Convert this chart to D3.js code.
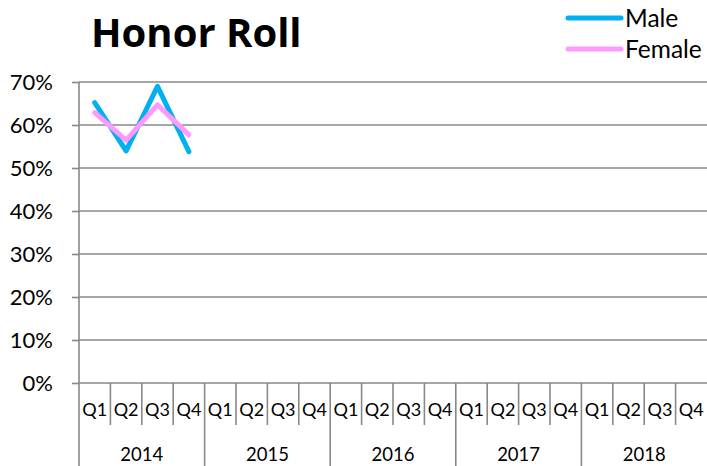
<!DOCTYPE html>
<html><head><meta charset="utf-8">
<script src="https://cdn.jsdelivr.net/npm/d3@7"></script>
<style>body{margin:0;background:#fff}svg{display:block}text{font-family:Lato,"Open Sans",sans-serif;fill:#000}</style>
</head><body>
<svg id="c" width="707" height="466"></svg>
<script>
const years = ["2014","2015","2016","2017","2018"];
const quarters = ["Q1","Q2","Q3","Q4"];
const male = [0.652, 0.54, 0.69, 0.538];
const female = [0.629, 0.565, 0.647, 0.577];
const yTicks = [0,0.1,0.2,0.3,0.4,0.5,0.6,0.7];

(function(){
const cats = [];
years.forEach(yr => quarters.forEach(q => cats.push(yr + "-" + q)));

const svg = d3.select("#c");
const pL = 79, pR = 707, pT = 82, pB = 383;
const x = d3.scaleBand().domain(cats).range([pL, pR]);
const y = d3.scaleLinear().domain([0, 0.7]).range([pB, pT]);
const grey = "#888888";

// gridlines
svg.append("g").selectAll("line").data(yTicks).join("line")
  .attr("x1", pL).attr("x2", pR)
  .attr("y1", d => y(d)).attr("y2", d => y(d))
  .attr("stroke", grey).attr("stroke-width", 1.6);

// y axis
const ya = svg.append("g").attr("transform", `translate(${pL},0)`)
  .call(d3.axisLeft(y).tickValues(yTicks).tickFormat(d3.format(".0%")).tickSize(7).tickPadding(19));
ya.select(".domain").remove();
ya.selectAll(".tick line").attr("stroke", grey).attr("stroke-width", 1.6);
ya.selectAll(".tick text").style("font-size", "22px").attr("fill", "#000").attr("font-family", null);
svg.append("line").attr("x1", pL).attr("x2", pL).attr("y1", pT).attr("y2", 466)
  .attr("stroke", grey).attr("stroke-width", 1.6);

// category separators
const qSep = cats.map((c, i) => i).filter(i => i % 4 !== 0);
svg.append("g").selectAll("line").data(qSep).join("line")
  .attr("x1", i => x(cats[i])).attr("x2", i => x(cats[i]))
  .attr("y1", pB).attr("y2", 425)
  .attr("stroke", grey).attr("stroke-width", 1.6);
svg.append("g").selectAll("line").data(years.slice(1)).join("line")
  .attr("x1", yr => x(yr + "-Q1")).attr("x2", yr => x(yr + "-Q1"))
  .attr("y1", pB).attr("y2", 466)
  .attr("stroke", grey).attr("stroke-width", 1.6);

svg.append("g").selectAll("text").data(cats).join("text")
  .attr("x", c => x(c) + x.bandwidth() / 2).attr("y", 416)
  .attr("text-anchor", "middle").style("font-size", "18px")
  .text(c => c.split("-")[1]);
svg.append("g").selectAll("text").data(years).join("text")
  .attr("x", yr => x(yr + "-Q1") + x.bandwidth() * 2).attr("y", 461)
  .attr("text-anchor", "middle").style("font-size", "18.5px")
  .text(d => d);

// lines
const line = d3.line().x((d, i) => x(cats[i]) + x.bandwidth() / 2).y(d => y(d));
svg.append("path").datum(male).attr("d", line).attr("fill", "none")
  .attr("stroke", "#00b0f0").attr("stroke-width", 5).attr("stroke-linecap", "round").attr("stroke-linejoin", "round");
svg.append("path").datum(female).attr("d", line).attr("fill", "none")
  .attr("stroke", "#ff99ff").attr("stroke-width", 5).attr("stroke-linecap", "round").attr("stroke-linejoin", "round");

// title
svg.append("text").attr("x", 91).attr("y", 47).style("font-family", "'Open Sans',sans-serif")
  .style("font-size", "40px").style("font-weight", "bold").text("Honor Roll");

// legend
const leg = [{n:"Male", c:"#00b0f0"}, {n:"Female", c:"#ff99ff"}];
const lg = svg.append("g").selectAll("g").data(leg).join("g")
  .attr("transform", (d, i) => `translate(0,${18 + i * 31})`);
lg.append("line").attr("x1", 568).attr("x2", 621).attr("y1", 0).attr("y2", 0)
  .attr("stroke", d => d.c).attr("stroke-width", 5).attr("stroke-linecap", "round");
lg.append("text").attr("x", 625).attr("y", 8.5).style("font-size", "24.5px").text(d => d.n);
})();
</script>
</body></html>
